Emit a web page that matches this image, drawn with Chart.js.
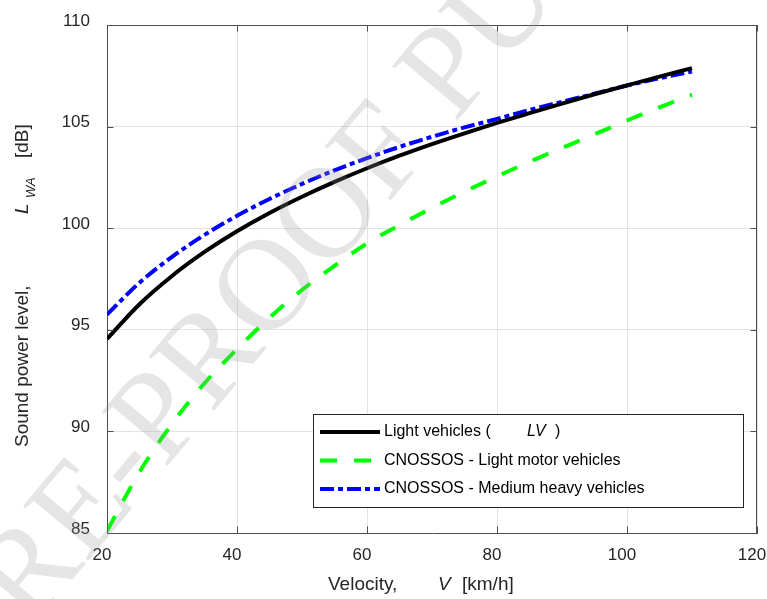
<!DOCTYPE html>
<html>
<head>
<meta charset="utf-8">
<script src="https://cdn.jsdelivr.net/npm/chart.js@4.4.0/dist/chart.umd.min.js"></script>
<style>
html, body { margin: 0; padding: 0; background: #fff; }
#wrap { width: 767px; height: 599px; }
</style>
</head>
<body>
<div id="wrap"><canvas id="chart" width="767" height="599"></canvas></div>
<script>
// values
const velocity = [20, 25, 30, 35, 40, 45, 50, 55, 60, 65, 70, 75, 80, 85, 90, 95, 100, 105, 110];
const lightVehicles = [94.55, 96.26, 97.65, 98.83, 99.85, 100.75, 101.55, 102.28, 102.95, 103.57, 104.14, 104.67, 105.18, 105.66, 106.13, 106.59, 107.03, 107.46, 107.88];
const cnossosLight = [85.1, 88.0, 90.37, 92.37, 94.05, 95.6, 96.96, 98.15, 99.25, 100.15, 101.0, 101.8, 102.55, 103.27, 103.95, 104.62, 105.3, 105.95, 106.57];
const cnossosMedium = [95.75, 97.32, 98.59, 99.67, 100.61, 101.44, 102.18, 102.85, 103.45, 104.0, 104.5, 104.96, 105.38, 105.82, 106.22, 106.62, 107.02, 107.38, 107.71];
const xTicks = [20, 40, 60, 80, 100, 120];
const yTicks = [85, 90, 95, 100, 105, 110];

const FONT = 'Liberation Sans, Arial, Helvetica, sans-serif';
const toPoints = ys => velocity.map((v, i) => ({ x: v, y: ys[i] }));

const styles = [
    { color: '#000000', dash: [] },
    { color: '#00ff00', dash: [17, 17] },
    { color: '#0000ff', dash: [14, 4, 5, 4] }
];

const framePlugin = {
    id: 'frame',
    afterDraw(chart) {
        const ctx = chart.ctx;
        const a = chart.chartArea;
        const xs = chart.scales.x, ys = chart.scales.y;
        ctx.save();

        // box top + right
        ctx.strokeStyle = '#4d4d4d';
        ctx.lineWidth = 1;
        ctx.beginPath();
        ctx.moveTo(a.left, a.top + 0.5); ctx.lineTo(a.right, a.top + 0.5);
        ctx.moveTo(a.right - 0.5, a.top); ctx.lineTo(a.right - 0.5, a.bottom);
        ctx.stroke();

        // inward ticks
        const tl = 6.5;
        ctx.beginPath();
        xTicks.forEach(v => {
            const px = Math.round(xs.getPixelForValue(v)) + 0.5;
            ctx.moveTo(px, a.bottom); ctx.lineTo(px, a.bottom - tl);
            ctx.moveTo(px, a.top); ctx.lineTo(px, a.top + tl);
        });
        yTicks.forEach(v => {
            const py = Math.round(ys.getPixelForValue(v)) + 0.5;
            ctx.moveTo(a.left, py); ctx.lineTo(a.left + tl, py);
            ctx.moveTo(a.right, py); ctx.lineTo(a.right - tl, py);
        });
        ctx.stroke();

        // legend
        const lx = 313.5, ly = 414.5, lw = 430, lh = 93;
        ctx.fillStyle = '#fff';
        ctx.fillRect(lx, ly, lw, lh);
        ctx.strokeStyle = '#262626';
        ctx.strokeRect(lx, ly, lw, lh);
        const rows = [432, 460.5, 489];
        ctx.font = '16px ' + FONT;
        ctx.textBaseline = 'middle';
        rows.forEach((ry, i) => {
            ctx.strokeStyle = styles[i].color;
            ctx.lineWidth = 4;
            ctx.setLineDash(styles[i].dash);
            ctx.beginPath();
            ctx.moveTo(320, ry); ctx.lineTo(380, ry);
            ctx.stroke();
            ctx.setLineDash([]);
            ctx.fillStyle = '#000';
            ctx.fillText(chart.data.datasets[i].label, 384, ry);
        });
        ctx.font = 'italic 16px ' + FONT;
        ctx.fillText('LV', 527, rows[0]);
        ctx.font = '16px ' + FONT;
        ctx.fillText(')', 555, rows[0]);

        // axis titles
        ctx.fillStyle = '#262626';
        ctx.textBaseline = 'alphabetic';
        ctx.font = '19px ' + FONT;
        ctx.fillText('Velocity,', 328, 590);
        ctx.fillText('[km/h]', 462, 590);
        ctx.font = 'italic 19px ' + FONT;
        ctx.fillText('V', 438, 590);

        ctx.save();
        ctx.translate(28, 447);
        ctx.rotate(-Math.PI / 2);
        ctx.font = '19px ' + FONT;
        ctx.fillText('Sound power level,', 0, 0);
        ctx.fillText('[dB]', 289, 0);
        ctx.font = 'italic 19px ' + FONT;
        ctx.fillText('L', 233, 0);
        ctx.font = 'italic 13px ' + FONT;
        ctx.fillText('WA', 249, 7);
        ctx.restore();

        // watermark
        ctx.save();
        ctx.translate(30, 630);
        ctx.rotate(-50 * Math.PI / 180);
        ctx.font = '130px Liberation Serif, Times New Roman, serif';
        ctx.fillStyle = 'rgba(150,150,150,0.25)';
        const pw = ctx.measureText('P').width;
        ctx.fillText('PRE-PROOF PUB', -pw, 0);
        ctx.restore();

        ctx.restore();
    }
};

new Chart(document.getElementById('chart'), {
    type: 'line',
    data: {
        datasets: [
            { label: 'Light vehicles (', data: toPoints(lightVehicles), borderColor: styles[0].color, borderDash: styles[0].dash, borderWidth: 4, pointRadius: 0, fill: false, cubicInterpolationMode: 'monotone' },
            { label: 'CNOSSOS - Light motor vehicles', data: toPoints(cnossosLight), borderColor: styles[1].color, borderDash: styles[1].dash, borderWidth: 4, pointRadius: 0, fill: false, cubicInterpolationMode: 'monotone' },
            { label: 'CNOSSOS - Medium heavy vehicles', data: toPoints(cnossosMedium), borderColor: styles[2].color, borderDash: styles[2].dash, borderWidth: 4, pointRadius: 0, fill: false, cubicInterpolationMode: 'monotone' }
        ]
    },
    options: {
        responsive: false,
        animation: false,
        devicePixelRatio: 1,
        layout: { padding: { top: 25, right: 10, left: 0, bottom: 0 } },
        plugins: { legend: { display: false }, tooltip: { enabled: false } },
        scales: {
            x: {
                type: 'linear', min: 20, max: 120,
                afterBuildTicks: s => { s.ticks = xTicks.map(v => ({ value: v })); },
                afterFit: s => { s.height = 66; s.paddingLeft = 0; s.paddingRight = 0; },
                grid: { color: '#e3e3e3', drawTicks: false },
                border: { display: true, color: '#4d4d4d' },
                ticks: { font: { family: FONT, size: 17 }, color: '#262626', padding: 12, labelOffset: -5, maxRotation: 0 }
            },
            y: {
                min: 85, max: 110,
                afterBuildTicks: s => { s.ticks = yTicks.map(v => ({ value: v })); },
                afterFit: s => { s.width = 107; s.paddingTop = 0; s.paddingBottom = 0; },
                grid: { color: '#e3e3e3', drawTicks: false },
                border: { display: true, color: '#4d4d4d' },
                ticks: { font: { family: FONT, size: 17 }, color: '#262626', padding: 17, labelOffset: -4 }
            }
        }
    },
    plugins: [framePlugin]
});
</script>
</body>
</html>
